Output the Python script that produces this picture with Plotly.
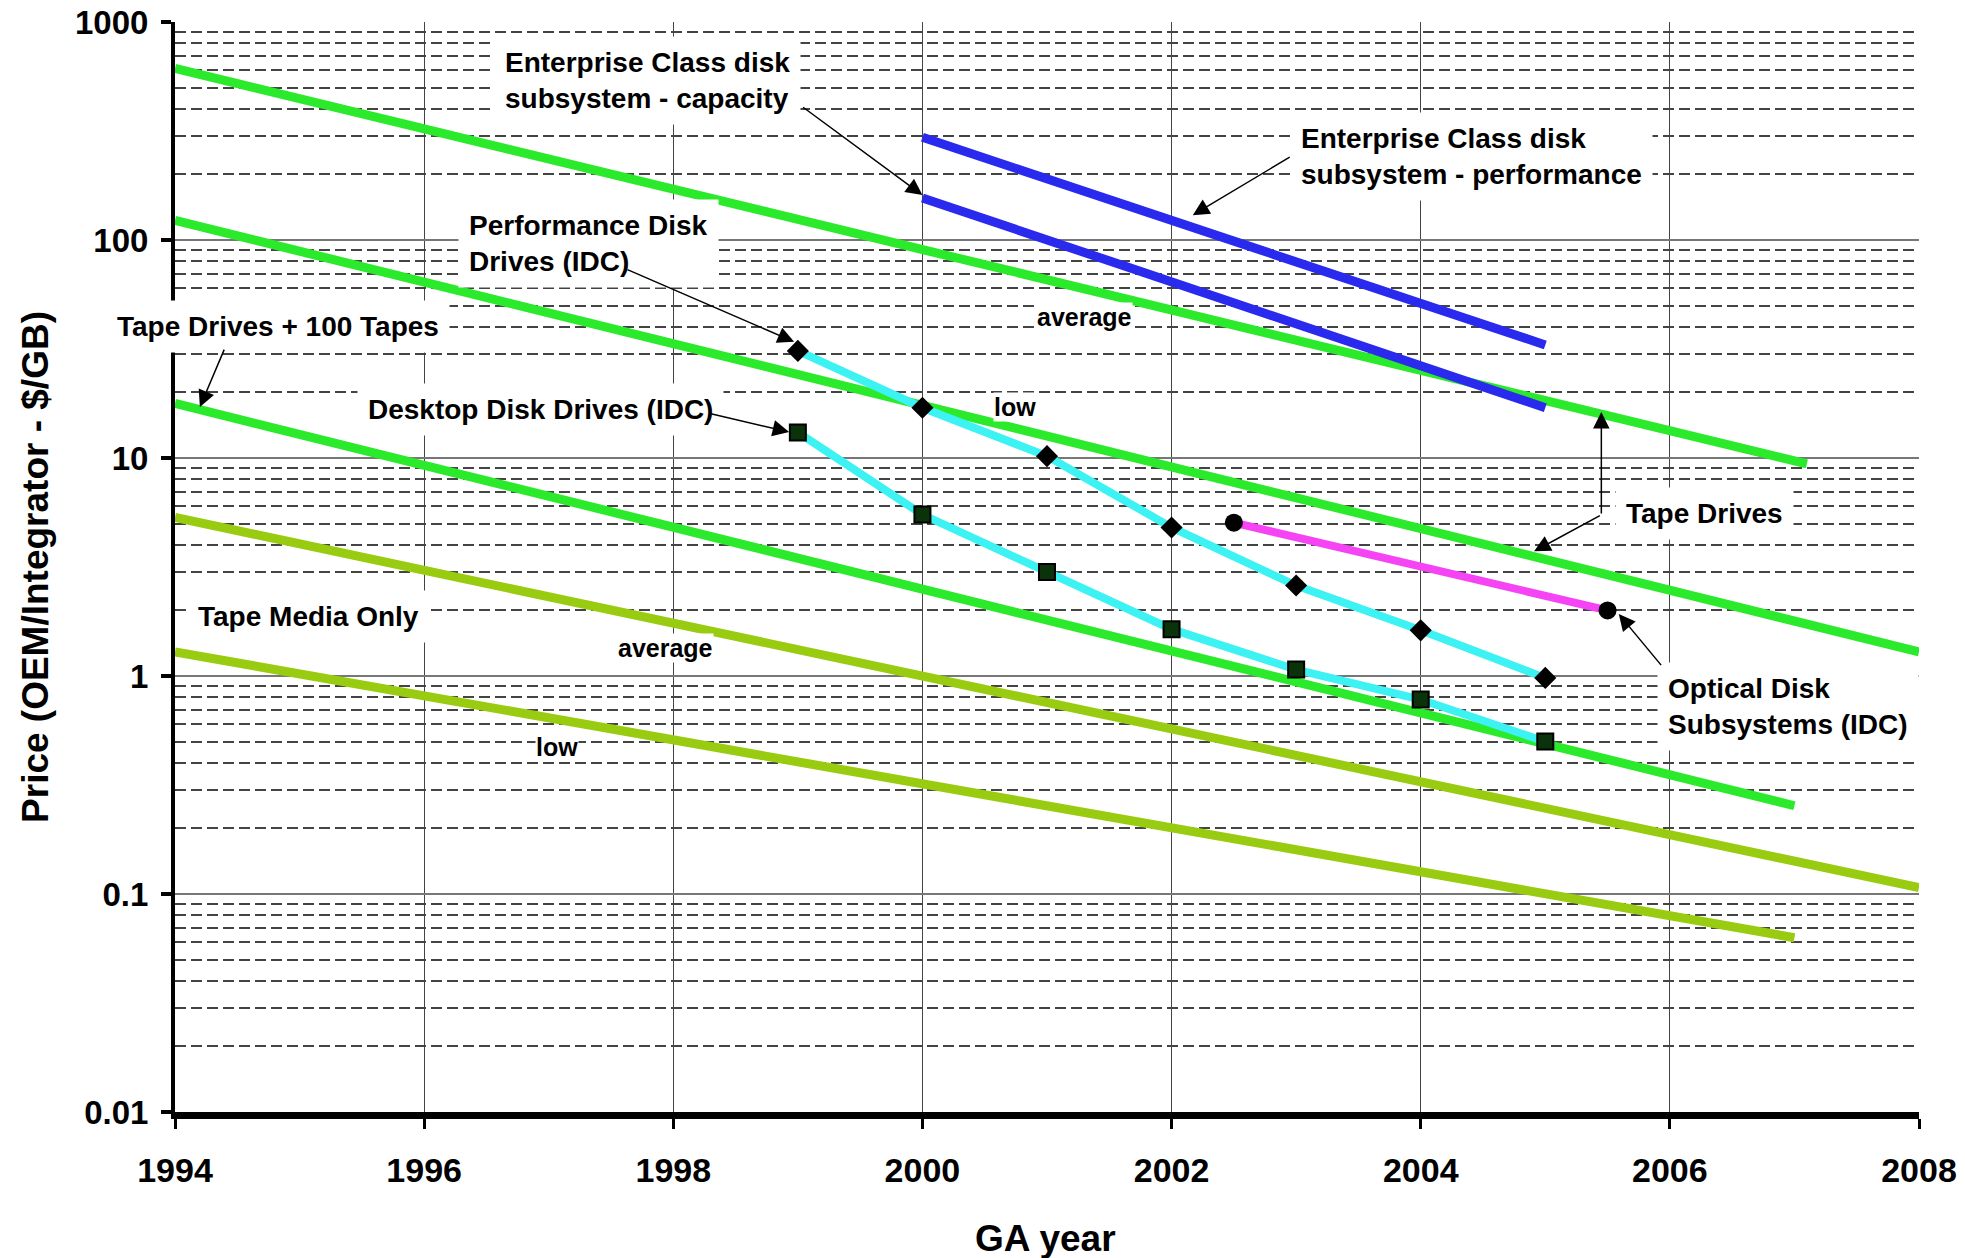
import math
import plotly.graph_objects as go

# ---------------- data ----------------
disk_years = [1999, 2000, 2001, 2002, 2003, 2004, 2005]
perf_disk_price = [31.0, 17.0, 10.2, 4.8, 2.6, 1.62, 0.98]
desktop_disk_price = [13.1, 5.5, 3.0, 1.64, 1.07, 0.78, 0.50]

optical_years = [2002.5, 2005.5]
optical_price = [5.05, 2.0]

ent_years = [2000, 2005]
ent_perf_price = [296, 33]
ent_cap_price = [156, 17]

tape_avg_years = [1994, 2007.1]
tape_avg_price = [612, 9.4]
tape_low_years = [1994, 2008]
tape_low_price = [123, 1.29]
tape100_years = [1994, 2007.0]
tape100_price = [17.8, 0.254]
media_avg_years = [1994, 2008]
media_avg_price = [5.34, 0.107]
media_low_years = [1994, 2007.0]
media_low_price = [1.29, 0.063]

x_ticks = [1994, 1996, 1998, 2000, 2002, 2004, 2006, 2008]
y_ticks = [0.01, 0.1, 1, 10, 100, 1000]
y_tick_text = ["0.01", "0.1", "1", "10", "100", "1000"]

FONT = "Liberation Sans"
GREEN = "#2BEA2B"
OLIVE = "#99CC11"
BLUE = "#2A2AEE"
CYAN = "#3CF2F2"
MAGENTA = "#F444F4"

fig = go.Figure()

def line(xs, ys, color, width):
    fig.add_trace(go.Scatter(x=xs, y=ys, mode="lines",
                             line=dict(color=color, width=width),
                             showlegend=False, hoverinfo="skip"))

line(tape_avg_years, tape_avg_price, GREEN, 9)
line(tape_low_years, tape_low_price, GREEN, 9)
line(tape100_years, tape100_price, GREEN, 9)
line(media_avg_years, media_avg_price, OLIVE, 9)
line(media_low_years, media_low_price, OLIVE, 9)
line(ent_years, ent_perf_price, BLUE, 9)
line(ent_years, ent_cap_price, BLUE, 9)

fig.add_trace(go.Scatter(x=disk_years, y=perf_disk_price, mode="lines+markers",
                         line=dict(color=CYAN, width=8),
                         marker=dict(symbol="diamond", size=17, color="black"),
                         showlegend=False))
fig.add_trace(go.Scatter(x=disk_years, y=desktop_disk_price, mode="lines+markers",
                         line=dict(color=CYAN, width=8),
                         marker=dict(symbol="square", size=16, color="#0B330B",
                                     line=dict(color="black", width=2)),
                         showlegend=False))
fig.add_trace(go.Scatter(x=optical_years, y=optical_price, mode="lines+markers",
                         line=dict(color=MAGENTA, width=8),
                         marker=dict(symbol="circle", size=18, color="black"),
                         showlegend=False))

# ---------------- annotations ----------------
L = math.log10
anns = []
PAD_YR = 0.08  # borderpad expressed in years, so text starts where it does in the reference

def label(x, y, text, size=28, pad=10, xanchor="left", xref="x"):
    if xanchor == "left" and xref == "x":
        x = x - PAD_YR
    anns.append(dict(x=x, y=L(y), xref=xref, yref="y", text=text, showarrow=False,
                     xanchor=xanchor, yanchor="middle", align="left",
                     bgcolor="white", borderpad=pad,
                     font=dict(family=FONT, size=size, color="black", weight="bold")))

def arrow(tail, head):
    anns.append(dict(x=head[0], y=L(head[1]), ax=tail[0], ay=L(tail[1]),
                     xref="x", yref="y", axref="x", ayref="y", text="",
                     showarrow=True, arrowhead=2, arrowsize=2.2, arrowwidth=1.5,
                     arrowcolor="black"))

label(1996.64, 10**2.730, "Enterprise Class disk<br>subsystem - capacity")
label(2003.03, 10**2.384, "Enterprise Class disk<br>subsystem - performance")
label(1996.35, 10**1.982, "Performance Disk<br>Drives (IDC)")
label(-0.0393, 10**1.602, "Tape Drives + 100 Tapes", xref="paper")
label(1995.54, 10**1.222, "Desktop Disk Drives (IDC)")
label(2001.30, 10**1.648, "average", size=25, pad=0, xanchor="center")
label(2000.74, 10**1.234, "low", size=25, pad=0, xanchor="center")
label(2005.64, 10**0.744, "Tape Drives")
label(1994.18, 10**0.273, "Tape Media Only")
label(1997.94, 10**0.129, "average", size=25, pad=0, xanchor="center")
label(1997.07, 10**-0.326, "low", size=25, pad=0, xanchor="center")
label(2005.98, 10**-0.139, "Optical Disk<br>Subsystems (IDC)")

arrow((1999.03, 10**2.614), (2000.0, 10**2.206))
arrow((2002.96, 10**2.384), (2002.17, 10**2.114))
arrow((1997.62, 10**1.867), (1998.97, 10**1.533))
arrow((1994.40, 10**1.504), (1994.20, 10**1.234))
arrow((1998.29, 10**1.205), (1998.93, 10**1.119))
arrow((2005.45, 10**0.739), (2005.45, 10**1.211))
arrow((2005.45, 10**0.739), (2004.91, 10**0.572))
arrow((2005.94, 10**0.043), (2005.59, 10**0.284))

# x-axis title (placed as a paper annotation for exact positioning)
anns.append(dict(x=0.4994, y=-0.1156, xref="paper", yref="paper", text="GA year",
                 showarrow=False, xanchor="center", yanchor="middle",
                 font=dict(family=FONT, size=37, color="black", weight="bold")))

minor_vals = [m * 10**e for e in range(-2, 3) for m in range(2, 10)]

fig.update_layout(
    width=1965, height=1258,
    margin=dict(l=167, r=54, t=14, b=154, autoexpand=False),
    paper_bgcolor="white", plot_bgcolor="white",
    annotations=anns,
    xaxis=dict(range=[1994, 2008], tickmode="array", tickvals=x_ticks,
               ticktext=[str(v) for v in x_ticks], automargin=False,
               ticklabeloverflow="allow",
               showgrid=True, gridcolor="#444444", gridwidth=1,
               showline=True, linecolor="black", linewidth=7,
               ticks="outside", ticklen=10, tickwidth=3, tickcolor="black",
               ticklabelstandoff=12, zeroline=False,
               tickfont=dict(family=FONT, size=34, color="black", weight="bold")),
    yaxis=dict(type="log", range=[-2, 3], tickmode="array", tickvals=y_ticks,
               ticktext=y_tick_text, automargin=False,
               ticklabeloverflow="allow",
               showgrid=True, gridcolor="#777777", gridwidth=2,
               showline=True, linecolor="black", linewidth=4,
               ticks="outside", ticklen=10, tickwidth=4, tickcolor="black",
               ticklabelstandoff=6, zeroline=False,
               tickfont=dict(family=FONT, size=33, color="black", weight="bold"),
               minor=dict(tickmode="array", tickvals=minor_vals, showgrid=True,
                          gridcolor="#444444", gridwidth=2, griddash="11px,5px",
                          ticks=""),
               title=dict(text="Price (OEM/Integrator - $/GB)", standoff=16,
                          font=dict(family=FONT, size=37, color="black", weight="bold"))),
)

fig.write_html("out.html")
